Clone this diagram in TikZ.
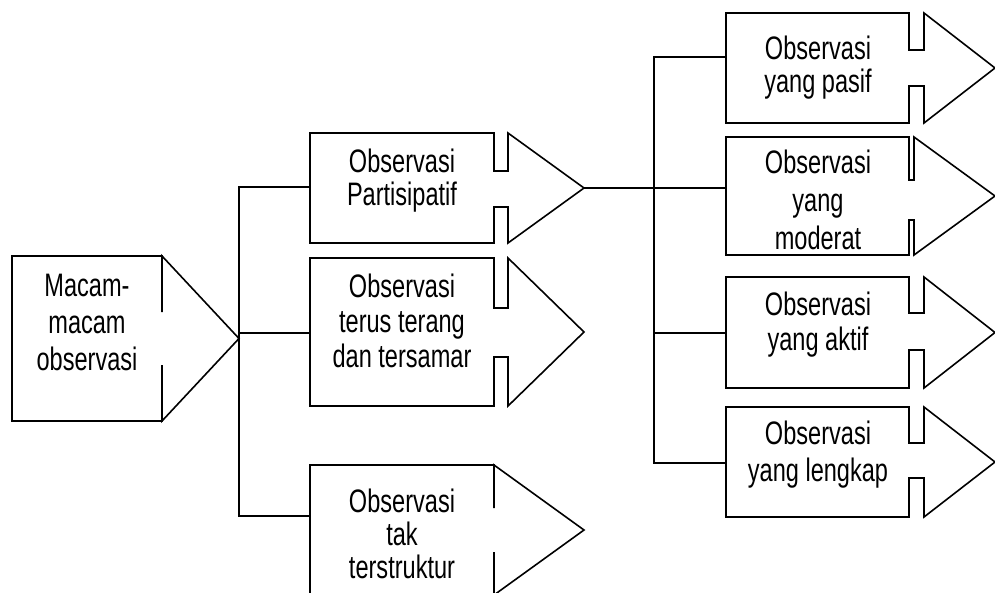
\documentclass[tikz,border=0pt]{standalone}
\usepackage{fontspec}
\newfontfamily\lbfont[FakeStretch=0.725]{Liberation Sans}
\tikzset{
  shapeline/.style={draw=black, line width=1.6pt, line join=miter},
  conn/.style={draw=black, line width=1.6pt},
  lbl/.style={align=center, anchor=base, inner sep=0pt},
}
% #1 name, #2 left, #3 top, #4 right, #5 bottom, #6 neck x, #7 upper notch y, #8 lower notch y, #9 tip x
\newcommand\arrowbox[9]{%
  \draw[shapeline] (#2,#3) -- (#4,#3) -- (#4,#7) -- (#6,#7) -- (#6,#3)
    -- (#9,{(#3+#5)/2}) -- (#6,#5) -- (#6,#8) -- (#4,#8) -- (#4,#5)
    -- (#2,#5) -- cycle;
  \coordinate (#1-tip) at (#9,{(#3+#5)/2});
}
\begin{document}
\begin{tikzpicture}[x=1pt,y=-1pt]
\useasboundingbox (0,0) rectangle (995,592);
\clip (0,0) rectangle (995,592);
\fill[white] (0,0) rectangle (995,592);

% shapes
\arrowbox{macam}{12}{256}{162}{421}{162}{312}{365}{239}
\arrowbox{parti}{310}{133}{494}{243}{508}{171}{207}{584}
\arrowbox{terus}{310}{258}{494}{406}{508}{308}{357}{584}
\arrowbox{tak}{310}{465}{494}{595}{494}{508}{552}{584}
\arrowbox{pasif}{726}{13}{909}{123}{924}{50}{86}{995}
\arrowbox{moderat}{726}{137}{909}{255}{914}{180}{220}{995}
\arrowbox{aktif}{726}{277}{909}{388}{924}{313}{350}{995}
\arrowbox{lengkap}{726}{407}{909}{517}{924}{443}{478}{995}

% texts (base anchor = baseline of the last line)
\node[lbl, font={\lbfont\fontsize{32.5}{37}\selectfont}] (tmacam) at (87,370) {Macam-\\macam\\observasi};
\node[lbl, font={\lbfont\fontsize{32.5}{33}\selectfont}] (tparti) at (402,205) {Observasi\\Partisipatif};
\node[lbl, font={\lbfont\fontsize{32.5}{35}\selectfont}] (tterus) at (402,367) {Observasi\\terus terang\\dan tersamar};
\node[lbl, font={\lbfont\fontsize{32.5}{33}\selectfont}] (ttak) at (402,578) {Observasi\\tak\\terstruktur};
\node[lbl, font={\lbfont\fontsize{32.5}{33}\selectfont}] (tpasif) at (818,92) {Observasi\\yang pasif};
\node[lbl, font={\lbfont\fontsize{32.5}{38}\selectfont}] (tmoderat) at (818,249) {Observasi\\yang\\moderat};
\node[lbl, font={\lbfont\fontsize{32.5}{35}\selectfont}] (taktif) at (818,350) {Observasi\\yang aktif};
\node[lbl, font={\lbfont\fontsize{32.5}{37}\selectfont}] (tlengkap) at (818,481) {Observasi\\yang lengkap};

% connector end points on the boxes
\coordinate (parti-in) at (310,187);
\coordinate (terus-in) at (310,333);
\coordinate (tak-in) at (310,516);
\coordinate (pasif-in) at (726,57);
\coordinate (moderat-in) at (726,188);
\coordinate (aktif-in) at (726,333);
\coordinate (lengkap-in) at (726,463);
\coordinate (hub) at (654,188);

% connectors
\draw[conn] (parti-in) -| (macam-tip) |- (tak-in);
\draw[conn] (macam-tip |- terus-in) -- (terus-in);
\draw[conn] (parti-tip) -- (moderat-in);
\draw[conn] (pasif-in) -| (hub) |- (lengkap-in);
\draw[conn] (hub |- aktif-in) -- (aktif-in);
\end{tikzpicture}
\end{document}
